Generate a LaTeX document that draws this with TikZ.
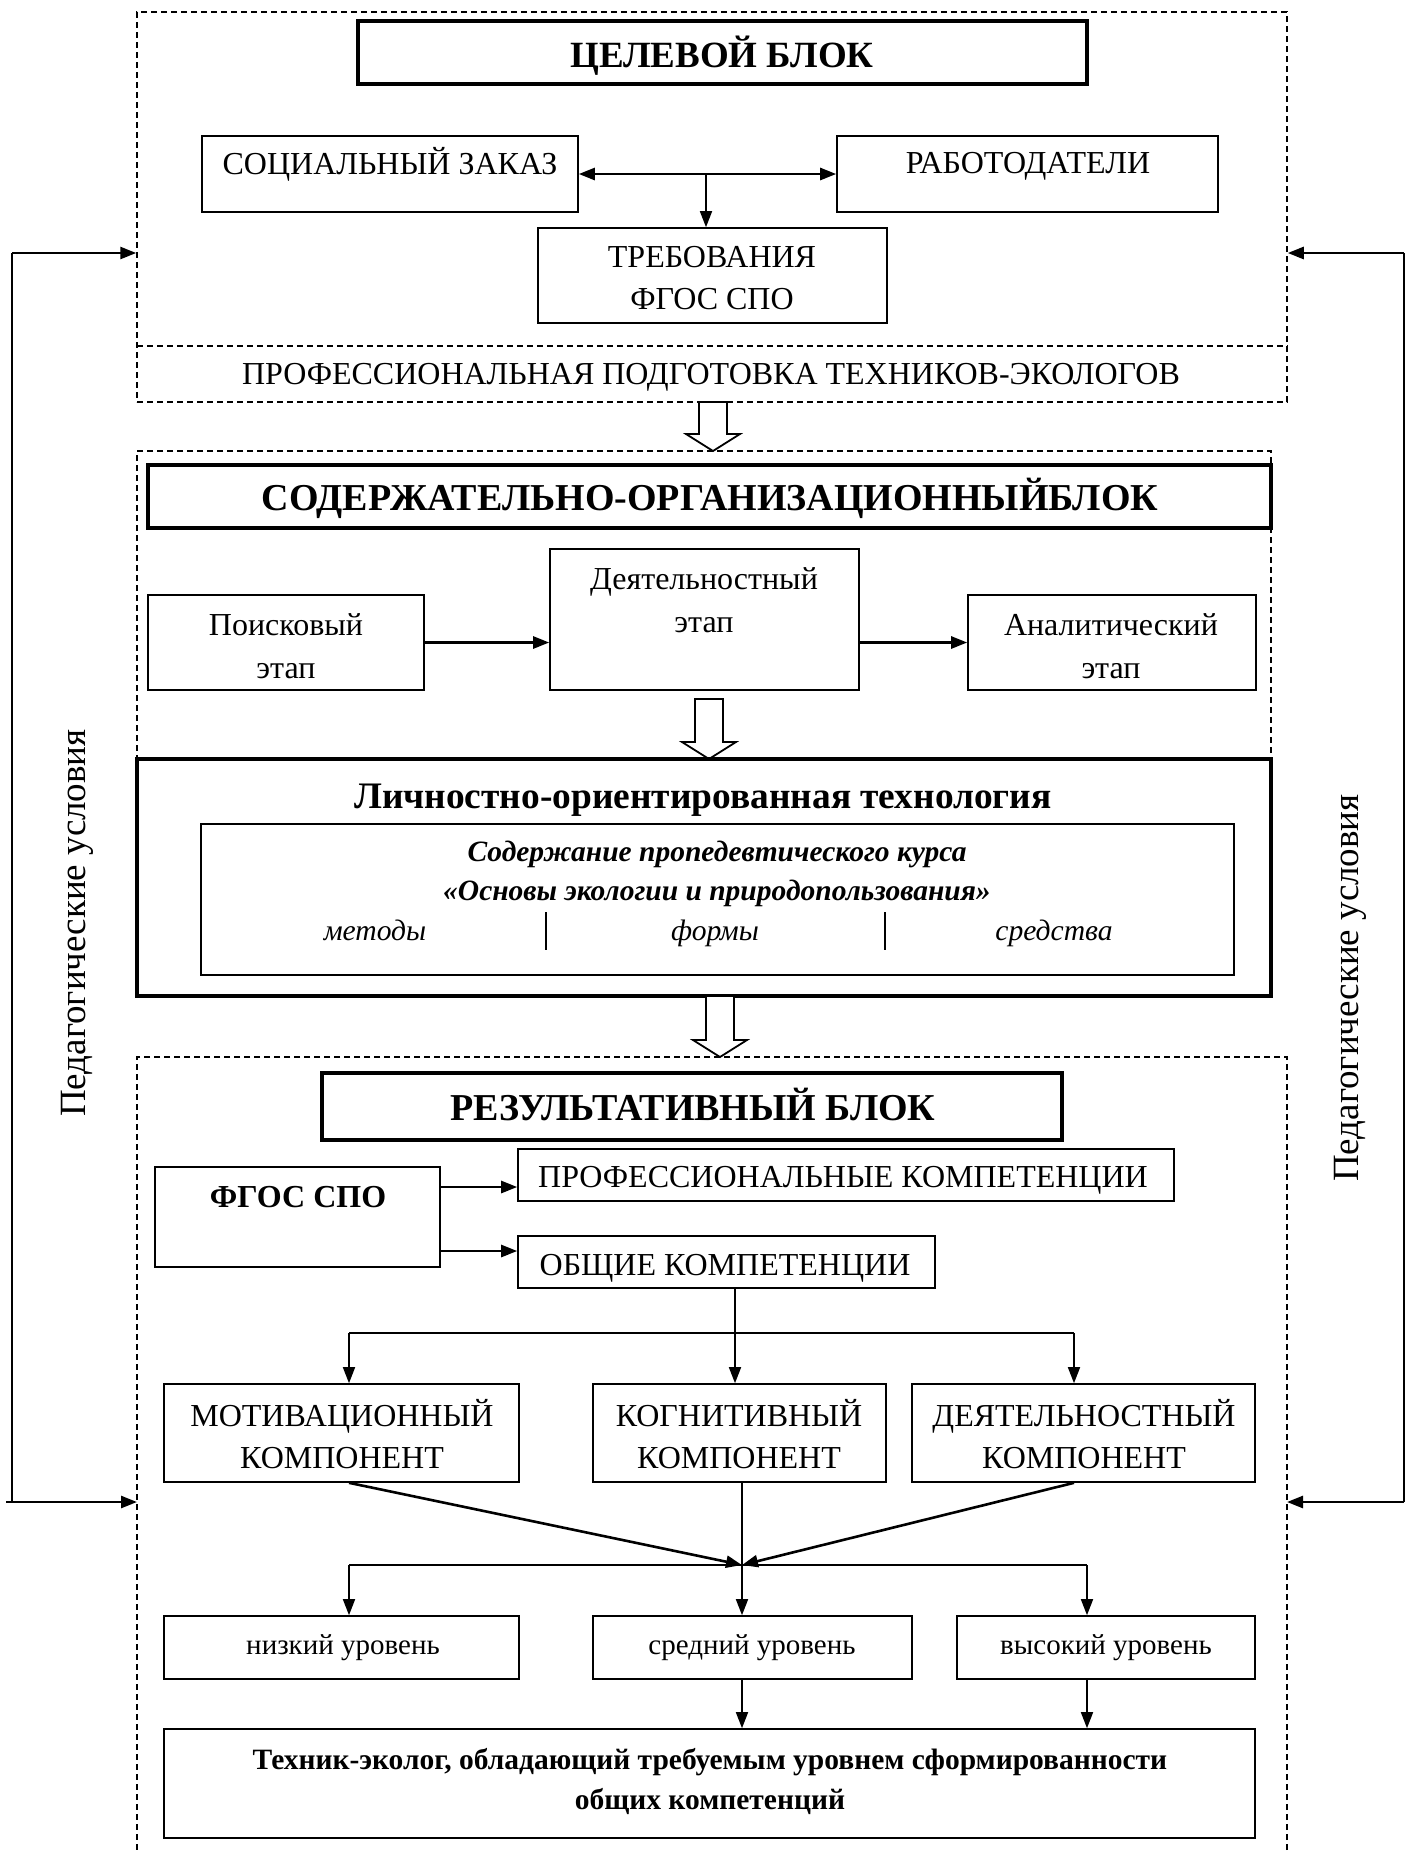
\documentclass[tikz,border=0pt]{standalone}
\usepackage{fontspec}
\setmainfont{Liberation Serif}
\usetikzlibrary{arrows.meta,fit,calc}
\newcommand\hollowarrow[3]{\draw[line width=0.9pt,fill=white] ({#1-14},#2) -- ({#1+14},#2) -- ({#1+14},{#3-17}) -- ({#1+27},{#3-17}) -- (#1,#3) -- ({#1-27},{#3-17}) -- ({#1-14},{#3-17}) -- cycle;}
\begin{document}
\begin{tikzpicture}[x=0.5pt,y=-0.5pt,
  box/.style={draw,line width=0.8pt,inner sep=0pt},
  tbox/.style={draw,line width=2pt,inner sep=0pt},
  dbox/.style={draw,dash pattern=on 3pt off 2pt,line width=0.75pt,inner sep=0pt},
  txt/.style={inner sep=0pt,align=center,font=\fontsize{16}{21}\selectfont},
  head/.style={inner sep=0pt,align=center,font=\fontsize{19}{22}\selectfont\bfseries},
  small/.style={inner sep=0pt,align=center,font=\fontsize{14.5}{18}\selectfont},
  itx/.style={inner sep=0pt,font=\fontsize{14.8}{19}\selectfont\itshape,text height=1.6ex,text depth=0.3ex},
  arr/.style={-{Triangle[length=8pt,width=6pt]},line width=0.8pt},
  tarr/.style={-{Triangle[length=8pt,width=6pt]},line width=1.3pt},
  ln/.style={line width=0.8pt},
  tln/.style={line width=1.3pt}]
\clip (0,0) rectangle (1409,1854);
\fill[white] (0,0) rectangle (1409,1854);

% ---------- block A ----------
\node[dbox,fit={(137,12)(1287,402)}] (blockA) {};
\coordinate (dA) at (137,346);
\draw[dash pattern=on 3pt off 2pt,line width=0.75pt] (dA) -- (dA -| blockA.east);
\node[tbox,fit={(358,21)(1087,84)}] (celev) {};
\node[head,font=\fontsize{18.5}{22}\selectfont\bfseries] (celevT) at (722,55.5) {ЦЕЛЕВОЙ БЛОК};
\node[box,fit={(202,136)(578,212)}] (soc) {};
\node[txt] (socT) at (390,164) {СОЦИАЛЬНЫЙ ЗАКАЗ};
\node[box,fit={(837,136)(1218,212)}] (rab) {};
\node[txt] (rabT) at (1028,166) {РАБОТОДАТЕЛИ};
\node[box,fit={(538,228)(887,323)}] (treb) {};
\node[txt] (trebT) at (712,278) {ТРЕБОВАНИЯ\\ФГОС СПО};
\node[txt] (profT) at (711,377) {ПРОФЕССИОНАЛЬНАЯ ПОДГОТОВКА ТЕХНИКОВ-ЭКОЛОГОВ};
\draw[{Triangle[length=8pt,width=6pt]}-{Triangle[length=8pt,width=6pt]},line width=1.3pt] (soc.east) -- (rab.west);
\coordinate (m1) at (706,174);
\draw[arr] (m1) -- (m1 |- treb.north);

% ---------- side arrows ----------
\coordinate (Ltop) at (12,253);
\coordinate (Lbot) at (12,1502);
\coordinate (Lbot0) at (6,1502);
\draw[tln] (Lbot) -- (Ltop);
\draw[tarr] (Ltop) -- (Ltop -| blockA.west);
\draw[tarr] (Lbot0) -- (137,1502);
\coordinate (Rtop) at (1404,253);
\coordinate (Rbot) at (1404,1502);
\draw[tln] (Rbot) -- (Rtop);
\draw[tarr] (Rtop) -- (Rtop -| blockA.east);
\draw[tarr] (Rbot) -- (1287,1502);
\node[txt,font=\fontsize{18.5}{22}\selectfont,rotate=90] (pedL) at (77,923) {Педагогические условия};
\node[txt,font=\fontsize{18.5}{22}\selectfont,rotate=90] (pedR) at (1350,988) {Педагогические условия};

% ---------- block B ----------
\hollowarrow{713}{402}{451}
\node[dbox,fit={(137,451)(1271,759)}] (blockB) {};
\node[tbox,fit={(148,465)(1271,528)}] (sod) {};
\node[head] (sodT) at (710,498) {СОДЕРЖАТЕЛЬНО-ОРГАНИЗАЦИОННЫЙБЛОК};
\node[box,fit={(148,595)(424,690)}] (poisk) {};
\node[txt,font=\fontsize{16}{21.5}\selectfont] (poiskT) at (286,646) {Поисковый\\этап};
\node[box,fit={(550,549)(859,690)}] (deyat) {};
\node[txt,font=\fontsize{16}{21.5}\selectfont] (deyatT) at (704,600) {Деятельностный\\этап};
\node[box,fit={(968,595)(1256,690)}] (anal) {};
\node[txt,font=\fontsize{16}{21.5}\selectfont] (analT) at (1111,646) {Аналитический\\этап};
\draw[tarr] (poisk.east) -- (poisk.east -| deyat.west);
\draw[tarr] (anal.west -| deyat.east) -- (anal.west);

% ---------- technology ----------
\hollowarrow{709}{699}{759}
\node[tbox,fit={(137,759)(1271,996)}] (lich) {};
\node[txt,font=\fontsize{18.7}{22}\selectfont\bfseries] (lichT) at (703,800) {Личностно-ориентированная технология};
\node[box,fit={(201,824)(1234,975)}] (inner) {};
\node[txt,font=\fontsize{14.75}{19.5}\selectfont\bfseries\itshape] (innerT) at (717,874) {Содержание пропедевтического курса\\«Основы экологии и природопользования»};
\node[itx] (met) at (375,935) {методы};
\node[itx] (form) at (715,935) {формы};
\node[itx] (sred0) at (1054,935) {средства};
\coordinate (s1a) at (546,912); \coordinate (s1b) at (546,950);
\coordinate (s2a) at (885,912); \coordinate (s2b) at (885,950);
\draw[line width=0.6pt] (s1a) -- (s1b);
\draw[line width=0.6pt] (s2a) -- (s2b);

% ---------- block C ----------
\hollowarrow{720}{996}{1057}
\node[dbox,fit={(137,1057)(1287,1920)}] (blockC) {};
\node[tbox,fit={(322,1073)(1062,1140)}] (rez) {};
\node[head] (rezT) at (693,1104.5) {РЕЗУЛЬТАТИВНЫЙ БЛОК};
\node[box,fit={(155,1167)(440,1267)}] (fgos) {};
\node[txt,font=\fontsize{16}{21}\selectfont\bfseries] (fgosT) at (298,1197) {ФГОС СПО};
\node[box,fit={(518,1149)(1174,1201)}] (profk) {};
\node[txt] (profkT) at (843,1180.5) {ПРОФЕССИОНАЛЬНЫЕ КОМПЕТЕНЦИИ};
\node[box,fit={(518,1236)(935,1288)}] (obsh) {};
\node[txt] (obshT) at (725,1268.5) {ОБЩИЕ КОМПЕТЕНЦИИ};
\draw[tarr] ([yshift=-6pt]profk.west -| fgos.east) -- ([yshift=-6pt]profk.west);
\draw[tarr] ([yshift=5.5pt]obsh.west -| fgos.east) -- ([yshift=5.5pt]obsh.west);

\node[box,fit={(164,1384)(519,1482)}] (motiv) {};
\node[txt] (motivT) at (342,1434) {МОТИВАЦИОННЫЙ\\КОМПОНЕНТ};
\node[box,fit={(593,1384)(886,1482)}] (kogn) {};
\node[txt] (kognT) at (739,1434) {КОГНИТИВНЫЙ\\КОМПОНЕНТ};
\node[box,fit={(912,1384)(1255,1482)}] (deyat2) {};
\node[txt] (deyat2T) at (1084,1434) {ДЕЯТЕЛЬНОСТНЫЙ\\КОМПОНЕНТ};

\coordinate (bm) at (735,1333);
\coordinate (bl) at (349,1333);
\coordinate (br) at (1074,1333);
\draw[ln] (obsh.south -| bm) -- (bm);
\draw[ln] (bl) -- (br);
\draw[arr] (bl) -- (bl |- motiv.north);
\draw[arr] (bm) -- (bm |- kogn.north);
\draw[arr] (br) -- (br |- deyat2.north);

\node[box,fit={(164,1616)(519,1679)}] (nizk) {};
\node[small] (nizkT) at (343,1648) {низкий уровень};
\node[box,fit={(593,1616)(912,1679)}] (sred) {};
\node[small] (sredT) at (752,1648) {средний уровень};
\node[box,fit={(957,1616)(1255,1679)}] (vys) {};
\node[small] (vysT) at (1106,1648) {высокий уровень};

\coordinate (J) at (742,1565);
\coordinate (hl) at (349,1565);
\coordinate (hr) at (1087,1565);
\coordinate (cl) at (349,1482);
\coordinate (cr) at (1074,1482);
\draw[tarr] (motiv.south -| cl) -- (J);
\draw[tarr] (deyat2.south -| cr) -- (J);
\draw[ln] (hl) -- (hr);
\draw[arr] (kogn.south -| J) -- (J |- sred.north);
\draw[arr] (hl) -- (hl |- nizk.north);
\draw[arr] (hr) -- (hr |- vys.north);

\node[box,fit={(164,1729)(1255,1838)}] (fin) {};
\node[txt,font=\fontsize{14.75}{20}\selectfont\bfseries] (finT) at (710,1781) {Техник-эколог, обладающий требуемым уровнем сформированности\\общих компетенций};
\draw[arr] (sred.south -| J) -- (J |- fin.north);
\draw[arr] (vys.south -| hr) -- (hr |- fin.north);
\end{tikzpicture}
\end{document}
